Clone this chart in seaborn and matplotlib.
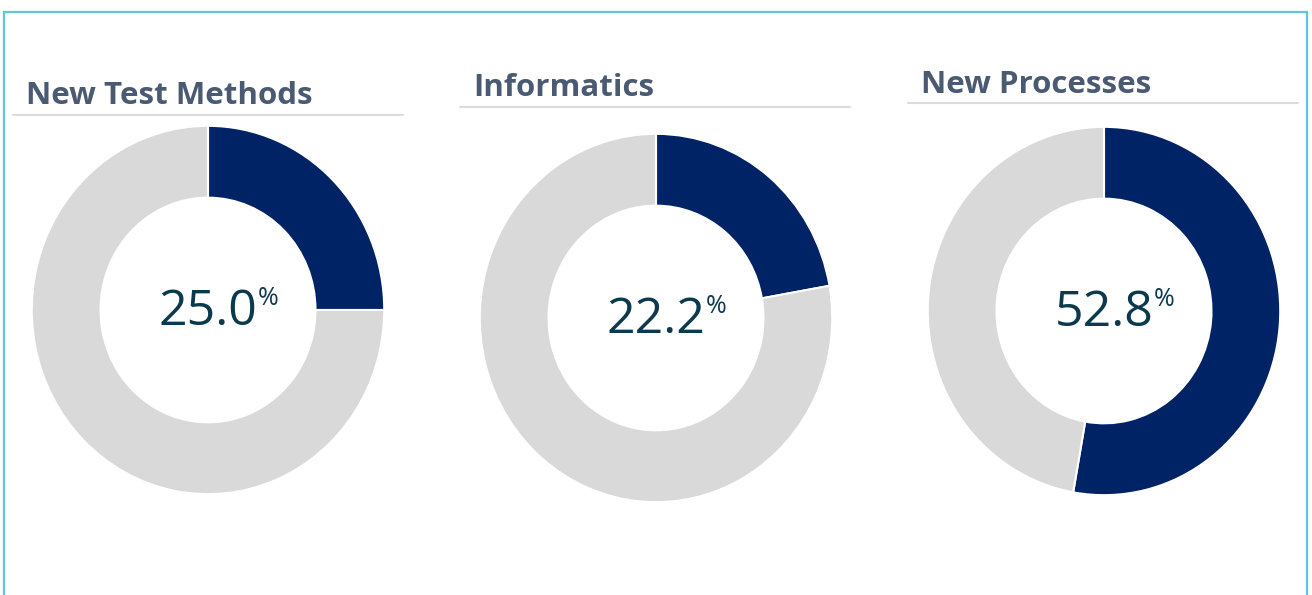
import matplotlib
matplotlib.use("Agg")
import matplotlib.pyplot as plt
from matplotlib.patches import Rectangle
import seaborn as sns

# data
titles = ["New Test Methods", "Informatics", "New Processes"]
percents = [25.0, 22.2, 52.8]
colors = ["#002366", "#d9d9d9"]

# layout in pixels (center x, center y, title x, title baseline, underline y)
centers = [(208, 310), (656, 318), (1104, 311)]
title_pos = [(26, 104), (473, 96), (921, 93)]
line_y = [115, 107, 103]
rx, ry = 178, 186

sns.set_theme(style="white")
plt.rcParams["font.family"] = ["Open Sans", "DejaVu Sans"]

W, H = 1312, 595
fig = plt.figure(figsize=(W / 100, H / 100), dpi=100)
fig.patch.set_facecolor("white")

# outer frame
fig.add_artist(Rectangle((4 / W, -0.05), 1303 / W, (H - 12) / H + 0.05,
                         transform=fig.transFigure, fill=False,
                         edgecolor="#62c4dc", linewidth=1.6))

for title, pct, (cx, cy), (tx, ty), ly in zip(titles, percents, centers, title_pos, line_y):
    ax = fig.add_axes([(cx - rx) / W, (H - cy - ry) / H, 2 * rx / W, 2 * ry / H])
    ax.pie([pct, 100 - pct], colors=colors, startangle=90, counterclock=False,
           radius=1.0, wedgeprops=dict(width=0.39, edgecolor="white", linewidth=1.5))
    ax.set_aspect("auto")
    ax.set_xlim(-1.01, 1.01)
    ax.set_ylim(-1.01, 1.01)
    ax.axis("off")

    num = ax.text(0, -0.01, f"{pct:.1f}", ha="center", va="center",
                  fontsize=36, color="#0b3a4e")
    ax.annotate("%", xy=(1, 1), xycoords=num, xytext=(0, 1), textcoords="offset points",
                ha="left", va="top", fontsize=18, color="#0b3a4e")

    fig.text(tx / W, (H - ty) / H, title, ha="left", va="baseline",
             fontsize=22.5, fontweight="bold", color="#4a5a73")
    fig.add_artist(plt.Line2D([(tx - 13) / W, (tx + 377) / W], [(H - ly) / H] * 2,
                              transform=fig.transFigure, color="#dcdcdc", linewidth=1.5))

fig.savefig("out.png", dpi=100, facecolor="white")
